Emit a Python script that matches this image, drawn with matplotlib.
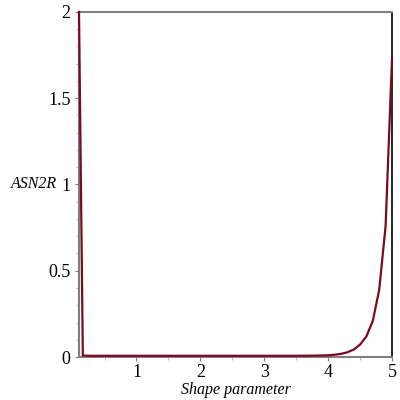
import matplotlib
matplotlib.use("Agg")
import matplotlib.pyplot as plt
from matplotlib.ticker import MultipleLocator
from matplotlib import font_manager

shape = [0.1, 0.16, 0.3, 0.5, 1.0, 1.5, 2.0, 2.5, 3.0, 3.5, 3.8, 4.0, 4.1, 4.2, 4.3, 4.4, 4.5, 4.6, 4.7, 4.8, 4.9, 5.0]
asn2r = [2.0, 0.008, 0.007, 0.007, 0.007, 0.007, 0.007, 0.007, 0.007, 0.007, 0.008, 0.01, 0.013, 0.018, 0.027, 0.043, 0.072, 0.12, 0.21, 0.39, 0.76, 1.73]
xticks = [1, 2, 3, 4, 5]
yticks = [0, 0.5, 1, 1.5, 2]
yticklabels = ["0", "0.5", "1", "1.5", "2"]

names = sorted({f.name for f in font_manager.fontManager.ttflist})
serif_pick = 'DejaVu Serif'
for cand in ['Liberation Serif', 'Times New Roman', 'Nimbus Roman', 'DejaVu Serif']:
    if cand in names:
        serif_pick = cand
        break
plt.rcParams['font.family'] = 'serif'
plt.rcParams['font.serif'] = [serif_pick, 'DejaVu Serif']

fig = plt.figure(figsize=(4, 4), dpi=100)
ax = fig.add_axes([0.1975, 0.1075, 0.7825, 0.8625])
ax.plot(shape, asn2r, color='#7a0a22', lw=1.6, clip_on=False, zorder=3)
ax.set_xlim(0.1, 5.0)
ax.set_ylim(0, 2)
ax.set_xticks(xticks)
ax.set_xticklabels([str(t) for t in xticks])
ax.set_yticks(yticks)
ax.set_yticklabels(yticklabels)
ax.xaxis.set_minor_locator(MultipleLocator(0.5))
ax.yaxis.set_minor_locator(MultipleLocator(0.1))
gray = '#808080'
for s in ['left', 'top', 'bottom']:
    ax.spines[s].set_color(gray)
    ax.spines[s].set_linewidth(1.5)
ax.spines['right'].set_color('black')
ax.spines['right'].set_linewidth(1.2)
ax.tick_params(axis='both', which='major', length=3, width=0.8, color=gray, labelsize=13, pad=2)
ax.tick_params(axis='y', which='major', pad=3)
ax.tick_params(axis='both', which='minor', length=2, width=0.6, color='#b0b0b0')
ax.set_xlabel('Shape parameter', fontstyle='italic', fontsize=11.5, labelpad=1)
ax.set_ylabel('ASN2R', fontstyle='italic', fontsize=11.5, rotation=0, labelpad=0, va='center')
ax.yaxis.set_label_coords(-0.145, 0.5)
fig.savefig('out.png', dpi=100)
